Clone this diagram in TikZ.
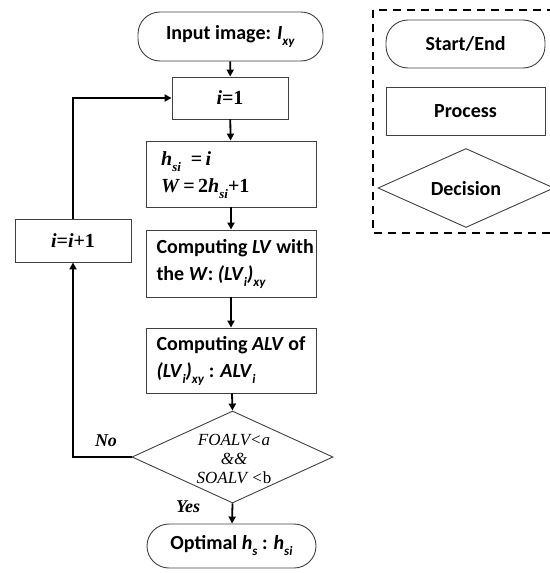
\documentclass[tikz,border=0pt]{standalone}
\usepackage{fontspec}
\setmainfont{Carlito}
\newfontfamily\tms{Liberation Serif}
\usetikzlibrary{shapes.geometric,arrows.meta}
% lowered, smaller text for subscripts
\newcommand\sbs[1]{\raisebox{-0.3em}{\fontsize{13}{13}\selectfont #1}}
\tikzset{
  boxline/.style={draw=black!75, line width=0.9pt},
  term/.style={boxline, rounded corners=22pt, font=\fontsize{20}{24}\selectfont\bfseries, inner sep=0pt},
  proc/.style={boxline, font=\fontsize{20}{24}\selectfont\bfseries, inner sep=0pt},
  decis/.style={boxline, diamond, inner sep=0pt},
  flow/.style={line width=1.8pt, -{Triangle[length=7pt,width=7pt]}},
  lab/.style={font=\tms\fontsize{18}{20}\selectfont\bfseries\itshape}
}
\begin{document}
\begin{tikzpicture}[x=1pt,y=-1pt]
\useasboundingbox (0,0) rectangle (549,573);

% main flow
\node[term, minimum width=185pt, minimum height=49pt] (in) at (230.5,36.5)
  {Input image: \textit{I}\sbs{\textit{xy}}};
\node[proc, minimum width=116pt, minimum height=42pt, font=\tms\fontsize{20}{24}\selectfont\bfseries] (i1) at (230,98)
  {\textit{i}=1};
\node[proc, minimum width=170pt, minimum height=66pt] (hs) at (231,174) {};
\node[font=\tms\fontsize{20}{21}\selectfont\bfseries, inner sep=0pt, anchor=base west] (hsa) at (161,165)
  {\textit{h}\sbs{\textit{si}}\ \ =\,\textit{i}};
\node[font=\tms\fontsize{20}{21}\selectfont\bfseries, inner sep=0pt, anchor=base west] (hsb) at (161,192)
  {\textit{W}\,=\,2\textit{h}\sbs{\textit{si}}+1};
\node[proc, minimum width=170pt, minimum height=67pt] (lv) at (231,263.5) {};
\node[font=\fontsize{20}{27}\selectfont\bfseries, align=left, anchor=west] (lvtext) at (153,263.5)
  {Computing \textit{LV} with\\ the \textit{W}: \textit{(LV}\sbs{\textit{i}}\textit{)}\sbs{\textit{xy}}};
\node[proc, minimum width=170pt, minimum height=65pt] (alv) at (231,360.5) {};
\node[font=\fontsize{20}{27}\selectfont\bfseries, align=left, anchor=west] (alvtext) at (153,360.5)
  {Computing \textit{ALV} of\\ \textit{(LV}\sbs{\textit{i}}\textit{)}\sbs{\textit{xy}} : \textit{ALV}\sbs{\textit{i}}};
\node[decis, minimum width=201pt, minimum height=92pt] (dec) at (232.5,457) {};
\node[font=\tms\fontsize{17}{19}\selectfont\itshape, align=center] (dectext) at (234,459)
  {FOALV<a\\ \&\&\\ SOALV <\textup{b}};
\node[term, minimum width=169pt, minimum height=44pt] (opt) at (231.5,546)
  {Optimal \textit{h}\sbs{\textit{s}} : \textit{h}\sbs{\textit{si}}};
\node[proc, minimum width=116pt, minimum height=43pt, font=\tms\fontsize{20}{24}\selectfont\bfseries] (inc) at (73,240.5)
  {\textit{i}=\textit{i}+1};

\draw[flow] (in) -- (i1);
\draw[flow] (i1) -- (hs);
\draw[flow] (hs) -- (lv);
\draw[flow] (lv) -- (alv);
\draw[flow] (alv) -- (dec.north);
\draw[flow] (dec.south) -- (opt);
\draw[flow] (dec.west) -| (inc.south);
\draw[flow] (inc.north) |- (i1.west);

\node[lab] (no) at (106,441) {No};
\node[lab] (yes) at (188,507) {Yes};

% legend
\draw[line width=2.4pt, dash pattern=on 8pt off 6pt] (373,10) rectangle (556,233);
\node[term, minimum width=159pt, minimum height=48pt] (kterm) at (465.5,44) {Start/End};
\node[proc, minimum width=159pt, minimum height=48pt] (kproc) at (465.5,111) {Process};
\node[decis, minimum width=176pt, minimum height=79pt] (kdec) at (466,188) {};
\node[font=\fontsize{20}{24}\selectfont\bfseries] (kdectext) at (466,189) {Decision};
\end{tikzpicture}
\end{document}
